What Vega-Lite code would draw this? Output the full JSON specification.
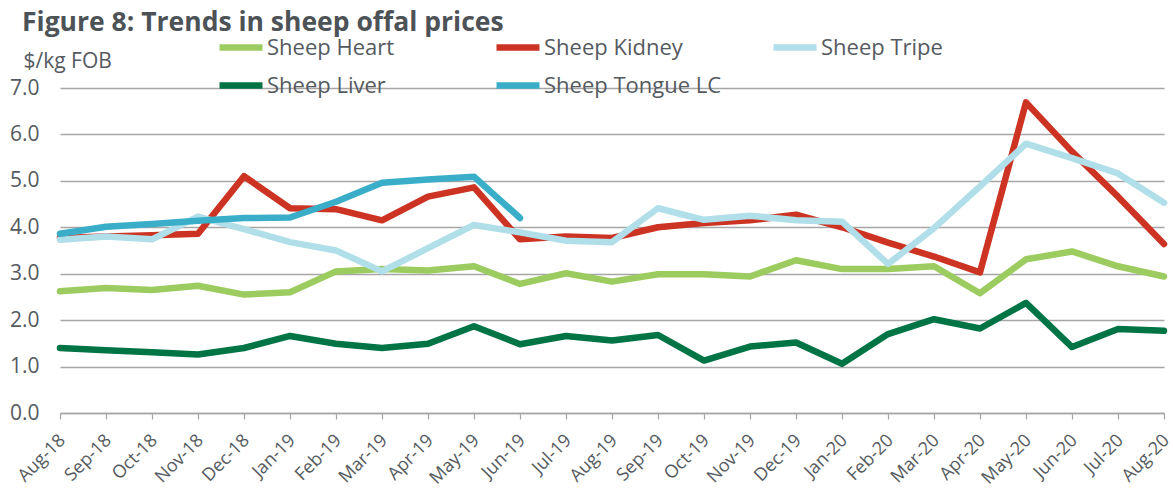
{
  "$schema": "https://vega.github.io/schema/vega-lite/v6.json",
  "width": 1104,
  "height": 325,
  "autosize": {"type": "none"},
  "padding": {"left": 60, "top": 88, "right": 9, "bottom": 84},
  "background": "white",
  "title": {
    "text": "Figure 8: Trends in sheep offal prices",
    "anchor": "start",
    "frame": "group",
    "dx": -38,
    "offset": -35,
    "baseline": "alphabetic",
    "font": "Open Sans",
    "fontSize": 26.5,
    "fontWeight": "bold",
    "color": "#4d5257"
  },
  "config": {
    "view": {"stroke": null},
    "font": "Open Sans"
  },
  "data": {
    "values": [
      {"month": "Aug-18", "series": "Sheep Heart", "value": 2.62},
      {"month": "Sep-18", "series": "Sheep Heart", "value": 2.69},
      {"month": "Oct-18", "series": "Sheep Heart", "value": 2.65},
      {"month": "Nov-18", "series": "Sheep Heart", "value": 2.74},
      {"month": "Dec-18", "series": "Sheep Heart", "value": 2.55},
      {"month": "Jan-19", "series": "Sheep Heart", "value": 2.6},
      {"month": "Feb-19", "series": "Sheep Heart", "value": 3.05},
      {"month": "Mar-19", "series": "Sheep Heart", "value": 3.1},
      {"month": "Apr-19", "series": "Sheep Heart", "value": 3.07},
      {"month": "May-19", "series": "Sheep Heart", "value": 3.16},
      {"month": "Jun-19", "series": "Sheep Heart", "value": 2.78},
      {"month": "Jul-19", "series": "Sheep Heart", "value": 3.01},
      {"month": "Aug-19", "series": "Sheep Heart", "value": 2.83},
      {"month": "Sep-19", "series": "Sheep Heart", "value": 2.99},
      {"month": "Oct-19", "series": "Sheep Heart", "value": 2.99},
      {"month": "Nov-19", "series": "Sheep Heart", "value": 2.94},
      {"month": "Dec-19", "series": "Sheep Heart", "value": 3.29},
      {"month": "Jan-20", "series": "Sheep Heart", "value": 3.1},
      {"month": "Feb-20", "series": "Sheep Heart", "value": 3.1},
      {"month": "Mar-20", "series": "Sheep Heart", "value": 3.16},
      {"month": "Apr-20", "series": "Sheep Heart", "value": 2.58},
      {"month": "May-20", "series": "Sheep Heart", "value": 3.31},
      {"month": "Jun-20", "series": "Sheep Heart", "value": 3.48},
      {"month": "Jul-20", "series": "Sheep Heart", "value": 3.16},
      {"month": "Aug-20", "series": "Sheep Heart", "value": 2.94},
      {"month": "Aug-18", "series": "Sheep Kidney", "value": 3.77},
      {"month": "Sep-18", "series": "Sheep Kidney", "value": 3.8},
      {"month": "Oct-18", "series": "Sheep Kidney", "value": 3.83},
      {"month": "Nov-18", "series": "Sheep Kidney", "value": 3.86},
      {"month": "Dec-18", "series": "Sheep Kidney", "value": 5.1},
      {"month": "Jan-19", "series": "Sheep Kidney", "value": 4.41},
      {"month": "Feb-19", "series": "Sheep Kidney", "value": 4.39},
      {"month": "Mar-19", "series": "Sheep Kidney", "value": 4.15},
      {"month": "Apr-19", "series": "Sheep Kidney", "value": 4.66},
      {"month": "May-19", "series": "Sheep Kidney", "value": 4.86},
      {"month": "Jun-19", "series": "Sheep Kidney", "value": 3.74},
      {"month": "Jul-19", "series": "Sheep Kidney", "value": 3.8},
      {"month": "Aug-19", "series": "Sheep Kidney", "value": 3.77},
      {"month": "Sep-19", "series": "Sheep Kidney", "value": 4.0},
      {"month": "Oct-19", "series": "Sheep Kidney", "value": 4.09},
      {"month": "Nov-19", "series": "Sheep Kidney", "value": 4.15},
      {"month": "Dec-19", "series": "Sheep Kidney", "value": 4.27},
      {"month": "Jan-20", "series": "Sheep Kidney", "value": 4.0},
      {"month": "Feb-20", "series": "Sheep Kidney", "value": 3.67},
      {"month": "Mar-20", "series": "Sheep Kidney", "value": 3.37},
      {"month": "Apr-20", "series": "Sheep Kidney", "value": 3.03},
      {"month": "May-20", "series": "Sheep Kidney", "value": 6.69},
      {"month": "Jun-20", "series": "Sheep Kidney", "value": 5.63},
      {"month": "Jul-20", "series": "Sheep Kidney", "value": 4.66},
      {"month": "Aug-20", "series": "Sheep Kidney", "value": 3.64},
      {"month": "Aug-18", "series": "Sheep Tripe", "value": 3.73},
      {"month": "Sep-18", "series": "Sheep Tripe", "value": 3.8},
      {"month": "Oct-18", "series": "Sheep Tripe", "value": 3.74},
      {"month": "Nov-18", "series": "Sheep Tripe", "value": 4.23},
      {"month": "Dec-18", "series": "Sheep Tripe", "value": 3.96},
      {"month": "Jan-19", "series": "Sheep Tripe", "value": 3.68},
      {"month": "Feb-19", "series": "Sheep Tripe", "value": 3.5},
      {"month": "Mar-19", "series": "Sheep Tripe", "value": 3.05},
      {"month": "Apr-19", "series": "Sheep Tripe", "value": 3.55},
      {"month": "May-19", "series": "Sheep Tripe", "value": 4.05},
      {"month": "Jun-19", "series": "Sheep Tripe", "value": 3.89},
      {"month": "Jul-19", "series": "Sheep Tripe", "value": 3.71},
      {"month": "Aug-19", "series": "Sheep Tripe", "value": 3.68},
      {"month": "Sep-19", "series": "Sheep Tripe", "value": 4.41},
      {"month": "Oct-19", "series": "Sheep Tripe", "value": 4.16},
      {"month": "Nov-19", "series": "Sheep Tripe", "value": 4.25},
      {"month": "Dec-19", "series": "Sheep Tripe", "value": 4.15},
      {"month": "Jan-20", "series": "Sheep Tripe", "value": 4.12},
      {"month": "Feb-20", "series": "Sheep Tripe", "value": 3.21},
      {"month": "Mar-20", "series": "Sheep Tripe", "value": 3.98},
      {"month": "Apr-20", "series": "Sheep Tripe", "value": 4.88},
      {"month": "May-20", "series": "Sheep Tripe", "value": 5.8},
      {"month": "Jun-20", "series": "Sheep Tripe", "value": 5.49},
      {"month": "Jul-20", "series": "Sheep Tripe", "value": 5.16},
      {"month": "Aug-20", "series": "Sheep Tripe", "value": 4.53},
      {"month": "Aug-18", "series": "Sheep Liver", "value": 1.4},
      {"month": "Sep-18", "series": "Sheep Liver", "value": 1.35},
      {"month": "Oct-18", "series": "Sheep Liver", "value": 1.31},
      {"month": "Nov-18", "series": "Sheep Liver", "value": 1.26},
      {"month": "Dec-18", "series": "Sheep Liver", "value": 1.4},
      {"month": "Jan-19", "series": "Sheep Liver", "value": 1.66},
      {"month": "Feb-19", "series": "Sheep Liver", "value": 1.49},
      {"month": "Mar-19", "series": "Sheep Liver", "value": 1.4},
      {"month": "Apr-19", "series": "Sheep Liver", "value": 1.49},
      {"month": "May-19", "series": "Sheep Liver", "value": 1.87},
      {"month": "Jun-19", "series": "Sheep Liver", "value": 1.48},
      {"month": "Jul-19", "series": "Sheep Liver", "value": 1.66},
      {"month": "Aug-19", "series": "Sheep Liver", "value": 1.56},
      {"month": "Sep-19", "series": "Sheep Liver", "value": 1.68},
      {"month": "Oct-19", "series": "Sheep Liver", "value": 1.13},
      {"month": "Nov-19", "series": "Sheep Liver", "value": 1.43},
      {"month": "Dec-19", "series": "Sheep Liver", "value": 1.52},
      {"month": "Jan-20", "series": "Sheep Liver", "value": 1.06},
      {"month": "Feb-20", "series": "Sheep Liver", "value": 1.7},
      {"month": "Mar-20", "series": "Sheep Liver", "value": 2.02},
      {"month": "Apr-20", "series": "Sheep Liver", "value": 1.82},
      {"month": "May-20", "series": "Sheep Liver", "value": 2.37},
      {"month": "Jun-20", "series": "Sheep Liver", "value": 1.42},
      {"month": "Jul-20", "series": "Sheep Liver", "value": 1.81},
      {"month": "Aug-20", "series": "Sheep Liver", "value": 1.77},
      {"month": "Aug-18", "series": "Sheep Tongue LC", "value": 3.86},
      {"month": "Sep-18", "series": "Sheep Tongue LC", "value": 4.01},
      {"month": "Oct-18", "series": "Sheep Tongue LC", "value": 4.07},
      {"month": "Nov-18", "series": "Sheep Tongue LC", "value": 4.14},
      {"month": "Dec-18", "series": "Sheep Tongue LC", "value": 4.2},
      {"month": "Jan-19", "series": "Sheep Tongue LC", "value": 4.21},
      {"month": "Feb-19", "series": "Sheep Tongue LC", "value": 4.55},
      {"month": "Mar-19", "series": "Sheep Tongue LC", "value": 4.96},
      {"month": "Apr-19", "series": "Sheep Tongue LC", "value": 5.03},
      {"month": "May-19", "series": "Sheep Tongue LC", "value": 5.09},
      {"month": "Jun-19", "series": "Sheep Tongue LC", "value": 4.2}
    ]
  },
  "mark": {"type": "line", "strokeJoin": "round", "strokeCap": "round"},
  "encoding": {
    "x": {
      "field": "month",
      "type": "nominal",
      "sort": ["Aug-18","Sep-18","Oct-18","Nov-18","Dec-18","Jan-19","Feb-19","Mar-19","Apr-19","May-19","Jun-19","Jul-19","Aug-19","Sep-19","Oct-19","Nov-19","Dec-19","Jan-20","Feb-20","Mar-20","Apr-20","May-20","Jun-20","Jul-20","Aug-20"],
      "scale": {"type": "point", "padding": 0},
      "axis": {
        "title": null,
        "labelAngle": -45,
        "labelFontSize": 18,
        "labelColor": "#555a60",
        "labelFont": "Open Sans",
        "labelPadding": 12,
        "labelOffset": -4,
        "domainColor": "#a6a6a6",
        "domainWidth": 1.5,
        "tickColor": "#a6a6a6",
        "tickWidth": 1.2,
        "tickSize": 6,
        "grid": false
      }
    },
    "y": {
      "field": "value",
      "type": "quantitative",
      "scale": {"domain": [0, 7], "nice": false},
      "axis": {
        "values": [0, 1, 2, 3, 4, 5, 6, 7],
        "format": ".1f",
        "title": "$/kg FOB",
        "titleAngle": 0,
        "titleX": -37,
        "titleY": -27,
        "titleAlign": "left",
        "titleBaseline": "middle",
        "titleFontSize": 21,
        "titleFontWeight": "normal",
        "titleColor": "#555a60",
        "titleFont": "Open Sans",
        "labelFontSize": 21,
        "labelColor": "#555a60",
        "labelFont": "Open Sans",
        "labelPadding": 21,
        "domain": false,
        "ticks": false,
        "grid": true,
        "gridColor": "#a6a6a6",
        "gridWidth": 1.3
      }
    },
    "color": {
      "field": "series",
      "type": "nominal",
      "sort": ["Sheep Heart", "Sheep Kidney", "Sheep Tripe", "Sheep Liver", "Sheep Tongue LC"],
      "scale": {
        "domain": ["Sheep Heart", "Sheep Kidney", "Sheep Tripe", "Sheep Liver", "Sheep Tongue LC"],
        "range": ["#9ccc5f", "#cc3323", "#b1dfe9", "#007445", "#3aaec9"]
      },
      "legend": {
        "title": null,
        "orient": "none",
        "legendX": 156,
        "legendY": -65.5,
        "direction": "horizontal",
        "columns": 3,
        "gridAlign": "all",
        "columnPadding": 38,
        "rowPadding": -14,
        "symbolType": "stroke",
        "symbolSize": 1849,
        "symbolStrokeWidth": 6,
        "labelFontSize": 22,
        "labelFont": "Open Sans",
        "labelColor": "#555a60",
        "labelOffset": 1,
        "labelLimit": 300
      }
    },
    "strokeWidth": {
      "field": "series",
      "type": "nominal",
      "scale": {
        "domain": ["Sheep Heart", "Sheep Kidney", "Sheep Tripe", "Sheep Liver", "Sheep Tongue LC"],
        "range": [6.5, 6.5, 6.5, 4.5, 3]
      },
      "legend": null
    }
  }
}
